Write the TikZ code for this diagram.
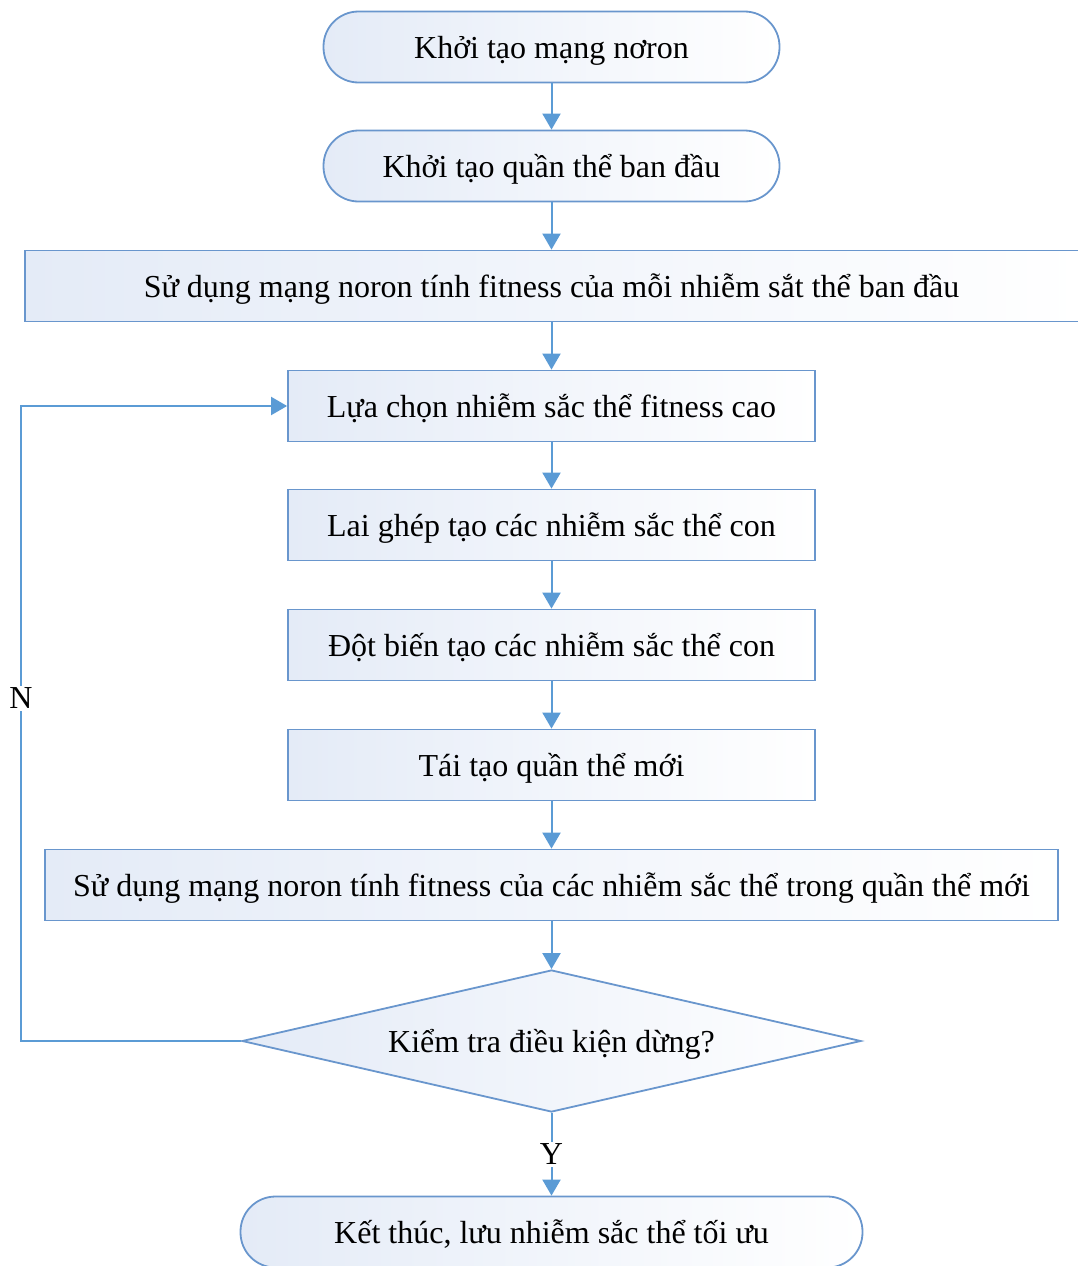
\documentclass[tikz,border=0pt]{standalone}
\usepackage{fontspec}
\setmainfont{Liberation Serif}
\usetikzlibrary{shapes.geometric,arrows.meta}
\definecolor{edge}{RGB}{105,150,205}
\definecolor{flow}{RGB}{91,155,213}
\definecolor{tint}{RGB}{228,235,247}
\begin{document}
\begin{tikzpicture}[x=1pt,y=-1pt,
  base/.style={draw=edge, line width=1.8pt, left color=tint, right color=white,
    inner sep=0pt, font=\fontsize{32}{38}\selectfont, text=black,
    text height=26pt, text depth=4pt},
  stadium/.style={base, rectangle, rounded corners=35pt, minimum height=71pt},
  stepbox/.style={base, rectangle, minimum height=71pt},
  decision/.style={base, diamond, shape aspect=4.36, minimum width=619pt, minimum height=142pt},
  flowline/.style={draw=flow, line width=2pt},
  flowarrow/.style={flowline, -{Triangle[length=16pt,width=18pt]}},
  tag/.style={fill=white, inner sep=2pt, font=\fontsize{32}{38}\selectfont}
]
\useasboundingbox (0,0) rectangle (1077,1266);

% main sequence of steps
\node[stadium, minimum width=456pt] (netinit) at (551.5,47) {Khởi tạo mạng nơron};
\node[stadium, minimum width=456pt] (popinit) at (551.5,166) {Khởi tạo quần thể ban đầu};
\node[stepbox, minimum width=1060pt] (evalfirst) at (555,286) {\hspace*{-7pt}Sử dụng mạng noron tính fitness của mỗi nhiễm sắt thể ban đầu};
\node[stepbox, minimum width=527pt] (select) at (551.5,406) {Lựa chọn nhiễm sắc thể fitness cao};
\node[stepbox, minimum width=527pt] (cross) at (551.5,525) {Lai ghép tạo các nhiễm sắc thể con};
\node[stepbox, minimum width=527pt] (mutate) at (551.5,645) {Đột biến tạo các nhiễm sắc thể con};
\node[stepbox, minimum width=527pt] (rebuild) at (551.5,765) {Tái tạo quần thể mới};
\node[stepbox, minimum width=1013pt] (evalnew) at (551.5,885) {Sử dụng mạng noron tính fitness của các nhiễm sắc thể trong quần thể mới};
\node[decision] (check) at (551.5,1041) {Kiểm tra điều kiện dừng?};
\node[stadium, minimum width=622pt] (finish) at (551.5,1232) {Kết thúc, lưu nhiễm sắc thể tối ưu};

% connectors
\draw[flowarrow] (netinit.south) -- (popinit.north);
\draw[flowarrow] (popinit.south) -- (popinit.south |- evalfirst.north);
\draw[flowarrow] (select.north |- evalfirst.south) -- (select.north);
\draw[flowarrow] (select.south) -- (cross.north);
\draw[flowarrow] (cross.south) -- (mutate.north);
\draw[flowarrow] (mutate.south) -- (rebuild.north);
\draw[flowarrow] (rebuild.south) -- (evalnew.north);
\draw[flowarrow] (evalnew.south) -- (check.north);
\draw[flowarrow] (check.south) -- node[tag] (yes) {Y} (finish.north);

% loop back when the stop condition is not met
\coordinate (loopbottom) at (21,1041);
\coordinate (looptop) at (21,406);
\draw[flowarrow] (check.west) -- (loopbottom) -- node[tag, pos=0.54] (no) {N} (looptop) -- (select.west);
\end{tikzpicture}
\end{document}
